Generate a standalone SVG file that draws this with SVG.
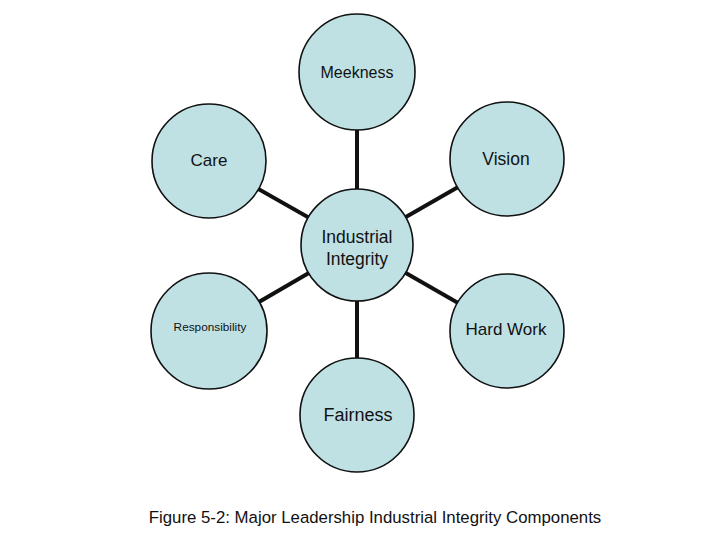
<svg xmlns="http://www.w3.org/2000/svg" width="720" height="540" viewBox="0 0 720 540">
<style>
.node circle{fill:#bfe1e4;stroke:#111;stroke-width:1.6}
.node text{font-family:"Liberation Sans",Arial,sans-serif;fill:#111;text-anchor:middle}
.conn line{stroke:#111;stroke-width:4}
.cap{font-family:"Liberation Sans",Arial,sans-serif;font-size:16.8px;fill:#111;text-anchor:middle}
</style>
<rect width="720" height="540" fill="#fff"/>
<g class="conn">
<line x1="357" y1="245" x2="357" y2="72"/>
<line x1="357" y1="245" x2="209" y2="161"/>
<line x1="357" y1="245" x2="507" y2="159"/>
<line x1="357" y1="245" x2="209" y2="331"/>
<line x1="357" y1="245" x2="507" y2="331"/>
<line x1="357" y1="245" x2="357" y2="415"/>
</g>
<g id="meekness" class="node"><circle cx="357" cy="72" r="58"/><text x="357" y="78" font-size="16">Meekness</text></g>
<g id="care" class="node"><circle cx="209" cy="161" r="57"/><text x="209" y="166" font-size="17">Care</text></g>
<g id="vision" class="node"><circle cx="507" cy="159" r="57"/><text x="506" y="165" font-size="17.5">Vision</text></g>
<g id="center" class="node"><circle cx="357" cy="245" r="56"/><text x="357" y="243" font-size="17.5">Industrial</text><text x="357" y="265" font-size="17.5">Integrity</text></g>
<g id="responsibility" class="node"><circle cx="209" cy="331" r="58"/><text x="210" y="331" font-size="11.8">Responsibility</text></g>
<g id="hardwork" class="node"><circle cx="507" cy="331" r="57"/><text x="506" y="335" font-size="17">Hard Work</text></g>
<g id="fairness" class="node"><circle cx="357" cy="415" r="57"/><text x="358" y="421" font-size="18">Fairness</text></g>
<text class="cap" x="375" y="523">Figure 5-2: Major Leadership Industrial Integrity Components</text>
</svg>
